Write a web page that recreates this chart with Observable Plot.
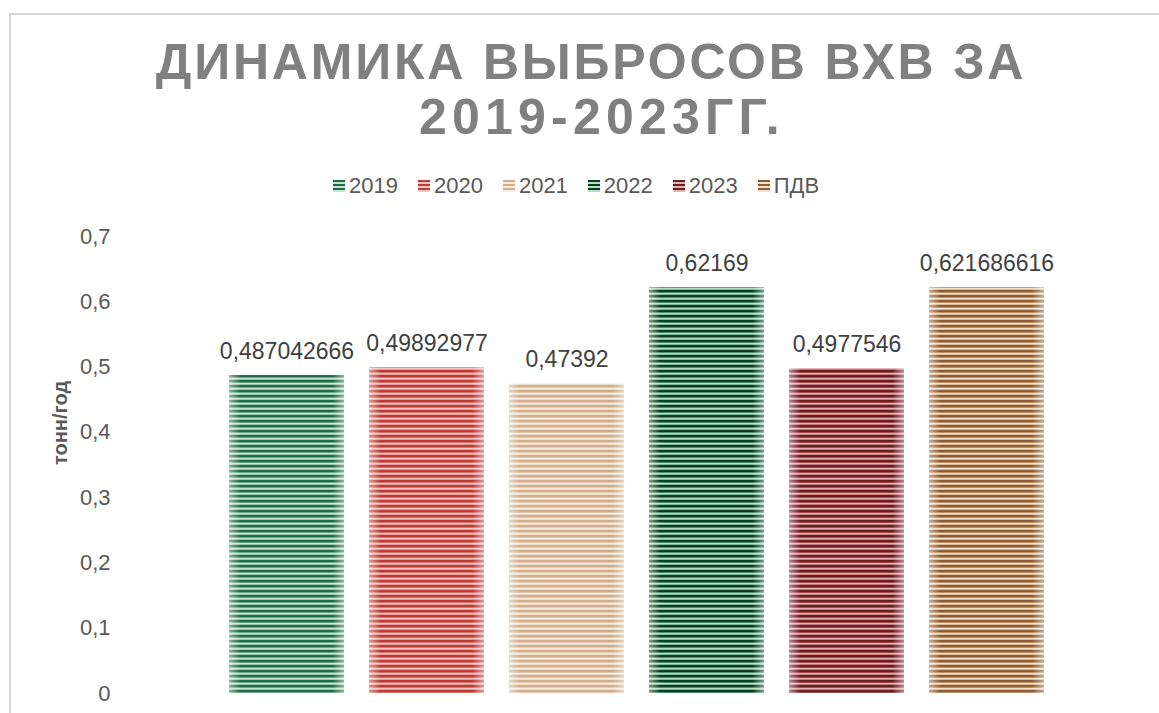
<!DOCTYPE html>
<html>
<head>
<meta charset="utf-8">
<script src="https://cdn.jsdelivr.net/npm/d3@7"></script>
<script src="https://cdn.jsdelivr.net/npm/@observablehq/plot@0.6"></script>
<style>
  html, body { margin: 0; padding: 0; background: #fff; width: 1159px; height: 713px; overflow: hidden;
    font-family: "Liberation Sans", Arial, sans-serif; }
  #frame { position: absolute; left: 9px; top: 13px; width: 1160px; height: 730px;
    border: 2px solid #d9d9d9; box-sizing: border-box; }
  #title { position: absolute; left: 10px; width: 1148px; top: 35px; text-align: center;
    font-weight: bold; font-size: 50px; line-height: 55px; color: #808080; }
  #title .l1 { display: block; letter-spacing: 2.8px; padding-left: 14px; }
  #title .l2 { display: block; letter-spacing: 5.2px; padding-left: 36px; }
  #legend { position: absolute; top: 175px; left: 333px; display: flex; align-items: center;
    gap: 20px; font-size: 22px; line-height: 22px; color: #595959; white-space: nowrap; }
  .item { display: flex; align-items: center; }
  .sw { width: 12px; height: 12px; margin-right: 4px; }
  #chart { position: absolute; left: 0; top: 210px; }
</style>
</head>
<body>
<div id="frame"></div>
<div id="title"><span class="l1">ДИНАМИКА ВЫБРОСОВ ВХВ ЗА</span><span class="l2">2019-2023ГГ.</span></div>
<div id="legend"></div>
<div id="chart"></div>
<script>
const series = ["2019", "2020", "2021", "2022", "2023", "ПДВ"];
const values = [0.487042666, 0.49892977, 0.47392, 0.62169, 0.4977546, 0.621686616];
const valueLabels = ["0,487042666", "0,49892977", "0,47392", "0,62169", "0,4977546", "0,621686616"];
const darkColors  = ["#1f6b45", "#bf3b36", "#d0ad8b", "#0e3b24", "#6e1d1f", "#8f5d33"];
const midColors   = ["#6aa885", "#d8706b", "#e2c9b0", "#4f8e6a", "#a04a4c", "#bb9067"];
const lightColors = ["#c4e3cf", "#f2c7c2", "#f6ece1", "#b0e2c2", "#e2b2b3", "#f0e0cc"];
const yTicks = [0, 0.1, 0.2, 0.3, 0.4, 0.5, 0.6, 0.7];
const yTickLabels = ["0", "0,1", "0,2", "0,3", "0,4", "0,5", "0,6", "0,7"];
const yAxisTitle = "тонн/год";

// legend
const legend = document.getElementById("legend");
series.forEach((s, i) => {
  const item = document.createElement("div");
  item.className = "item";
  const sw = document.createElement("div");
  sw.className = "sw";
  sw.style.background = `repeating-linear-gradient(to bottom, ${darkColors[i]} 0px, ${darkColors[i]} 1.6px, ${midColors[i]} 1.6px, ${midColors[i]} 2.4px, ${lightColors[i]} 2.4px, ${lightColors[i]} 4px)`;
  const t = document.createElement("span");
  t.textContent = s;
  item.appendChild(sw);
  item.appendChild(t);
  legend.appendChild(item);
});

const data = series.map((s, i) => ({
  series: s, value: values[i], label: valueLabels[i], pattern: `url(#stripe${i})`
}));

const chart = Plot.plot({
  width: 1159,
  height: 503,
  marginTop: 26,
  marginBottom: 20,
  marginLeft: 214.6,
  marginRight: 99.6,
  style: { fontFamily: "'Liberation Sans', Arial, sans-serif", background: "transparent", overflow: "visible" },
  x: { domain: series, paddingInner: 0.176, paddingOuter: 0.088, axis: null },
  y: { domain: [0, 0.7], axis: null },
  color: { type: "identity" },
  marks: [
    Plot.axisY({
      ticks: yTicks,
      tickFormat: d => yTickLabels[yTicks.indexOf(d)] ?? String(d).replace(".", ","),
      tickSize: 0, tickPadding: 104.6, fontSize: 22, color: "#595959", label: null
    }),
    Plot.barY(data, { x: "series", y: "value", fill: d => d.pattern }),
    Plot.barY(data, { x: "series", y: "value", fill: () => "url(#edgeGlow)" }),
    Plot.text(data, { x: "series", y: "value", text: "label", dy: -24, fontSize: 23, fill: "#404040" }),
    Plot.text([yAxisTitle], { text: d => d, frameAnchor: "left", dx: -155, rotate: -90,
      fontSize: 20, fontWeight: "bold", fill: "#595959" })
  ]
});

const defs = d3.select(chart).insert("defs", ":first-child");
series.forEach((s, i) => {
  const p = defs.append("pattern").attr("id", `stripe${i}`)
    .attr("patternUnits", "userSpaceOnUse").attr("width", 10).attr("height", 5);
  p.append("rect").attr("width", 10).attr("height", 5).attr("fill", lightColors[i]);
  p.append("rect").attr("y", 0).attr("width", 10).attr("height", 2).attr("fill", darkColors[i]);
  p.append("rect").attr("y", 2).attr("width", 10).attr("height", 1).attr("fill", midColors[i]);
  p.append("rect").attr("y", 4).attr("width", 10).attr("height", 1).attr("fill", midColors[i]).attr("opacity", 0.5);
});
const g = defs.append("linearGradient").attr("id", "edgeGlow").attr("x1", 0).attr("x2", 1).attr("y1", 0).attr("y2", 0);
[[0, 0.5], [0.1, 0], [0.9, 0], [1, 0.5]].forEach(([o, a]) =>
  g.append("stop").attr("offset", o).attr("stop-color", "#fff").attr("stop-opacity", a));

document.getElementById("chart").appendChild(chart);
</script>
</body>
</html>
